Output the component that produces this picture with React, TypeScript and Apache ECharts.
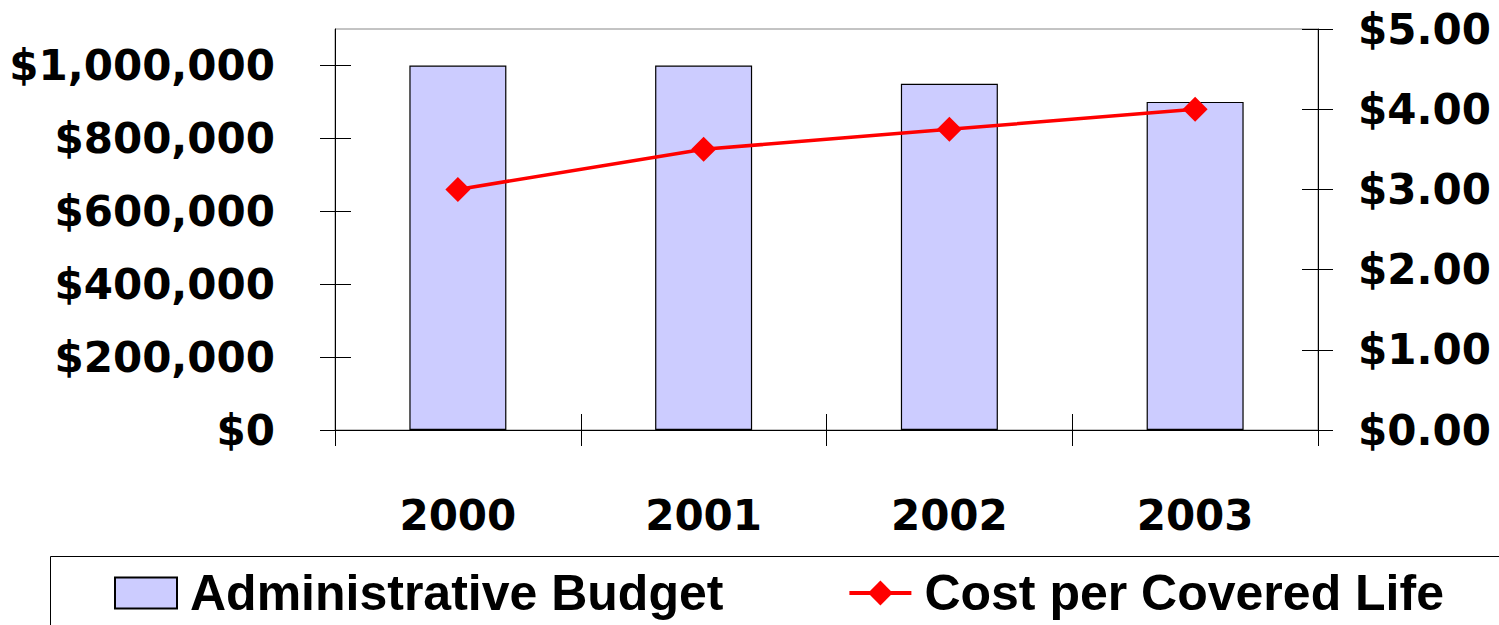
import React, { useEffect, useRef } from "react";
import * as echarts from "echarts";

const years = ["2000", "2001", "2002", "2003"];
const adminBudget = [1000000, 1000000, 950000, 900000];
const costPerLife = [3.0, 3.5, 3.75, 4.0];
const leftTicks = [0, 200000, 400000, 600000, 800000, 1000000];

const AXIS_FONT = "'DejaVu Sans', Verdana, sans-serif";
const LEGEND_FONT = "'Liberation Sans', Arial, sans-serif";

const fmtDollar = (v: number) => "$" + Math.round(v).toLocaleString("en-US");
const fmtCents = (v: number) => "$" + v.toFixed(2);

export default function App() {
  const ref = useRef<HTMLDivElement>(null);
  useEffect(() => {
    if (!ref.current) return;
    const chart = echarts.init(ref.current, null, { renderer: "svg" });
    const labelStyle = {
      fontFamily: AXIS_FONT,
      fontWeight: "bold" as const,
      fontSize: 42,
      color: "#000",
    };
    chart.setOption({
      animation: false,
      backgroundColor: "#fff",
      grid: {
        left: 335,
        right: 181,
        top: 29,
        bottom: 195,
        show: true,
        borderColor: "#888",
        borderWidth: 1,
        backgroundColor: "transparent",
      },
      graphic: [
        {
          type: "rect",
          left: 48,
          top: 554,
          shape: { width: 1600, height: 200 },
          style: { fill: "none", stroke: "#000", lineWidth: 1 },
          silent: true,
          z: -1,
        },
      ],
      legend: {
        left: 114,
        top: 568,
        width: 1600,
        orient: "horizontal",
        padding: 0,
        itemWidth: 62,
        itemHeight: 31,
        itemGap: 124,
        textStyle: {
          fontFamily: LEGEND_FONT,
          fontWeight: "bold",
          fontSize: 50,
          color: "#000",
          padding: [0, 0, 0, 8],
        },
        data: [
          { name: "Administrative Budget", icon: "rect" },
          { name: "Cost per Covered Life", lineStyle: { width: 4 } },
        ],
      },
      xAxis: [
        {
          type: "category",
          data: years,
          position: "bottom",
          boundaryGap: true,
          axisLine: { show: true, lineStyle: { color: "#000", width: 1 } },
          axisTick: { show: true, inside: false, length: 16, lineStyle: { color: "#000" } },
          axisLabel: { ...labelStyle, margin: 64 },
        },
        {
          type: "category",
          data: years,
          position: "bottom",
          boundaryGap: true,
          axisLine: { show: false },
          axisTick: { show: true, inside: true, length: 16, lineStyle: { color: "#000" } },
          axisLabel: { show: false },
        },
      ],
      yAxis: [
        {
          type: "value",
          position: "left",
          min: 0,
          max: 1100000,
          interval: 200000,
          splitLine: { show: false },
          axisLine: { show: true, lineStyle: { color: "#000", width: 1 } },
          axisTick: { show: true, inside: false, length: 15, customValues: leftTicks, lineStyle: { color: "#000" } },
          axisLabel: { ...labelStyle, margin: 60, customValues: leftTicks, formatter: fmtDollar },
        },
        {
          type: "value",
          position: "right",
          min: 0,
          max: 5,
          interval: 1,
          splitLine: { show: false },
          axisLine: { show: true, lineStyle: { color: "#000", width: 1 } },
          axisTick: { show: true, inside: false, length: 15, lineStyle: { color: "#000" } },
          axisLabel: { ...labelStyle, margin: 40, formatter: fmtCents },
        },
        {
          type: "value",
          position: "left",
          min: 0,
          max: 1100000,
          interval: 200000,
          splitLine: { show: false },
          axisLine: { show: false },
          axisTick: { show: true, inside: true, length: 16, customValues: leftTicks, lineStyle: { color: "#000" } },
          axisLabel: { show: false },
        },
        {
          type: "value",
          position: "right",
          min: 0,
          max: 5,
          interval: 1,
          splitLine: { show: false },
          axisLine: { show: false },
          axisTick: { show: true, inside: true, length: 16, lineStyle: { color: "#000" } },
          axisLabel: { show: false },
        },
      ],
      series: [
        {
          name: "Administrative Budget",
          type: "bar",
          xAxisIndex: 0,
          yAxisIndex: 0,
          data: adminBudget,
          barWidth: 97,
          itemStyle: { color: "#CCCCFF", borderColor: "#000", borderWidth: 1.2 },
        },
        {
          name: "Cost per Covered Life",
          type: "line",
          xAxisIndex: 0,
          yAxisIndex: 1,
          data: costPerLife,
          symbol: "diamond",
          symbolSize: 25,
          lineStyle: { color: "#FF0000", width: 3.5 },
          itemStyle: { color: "#FF0000" },
        },
      ],
    });
    return () => chart.dispose();
  }, []);
  return <div ref={ref} style={{ width: 1499, height: 625, position: "absolute", left: 0, top: 0 }} />;
}
